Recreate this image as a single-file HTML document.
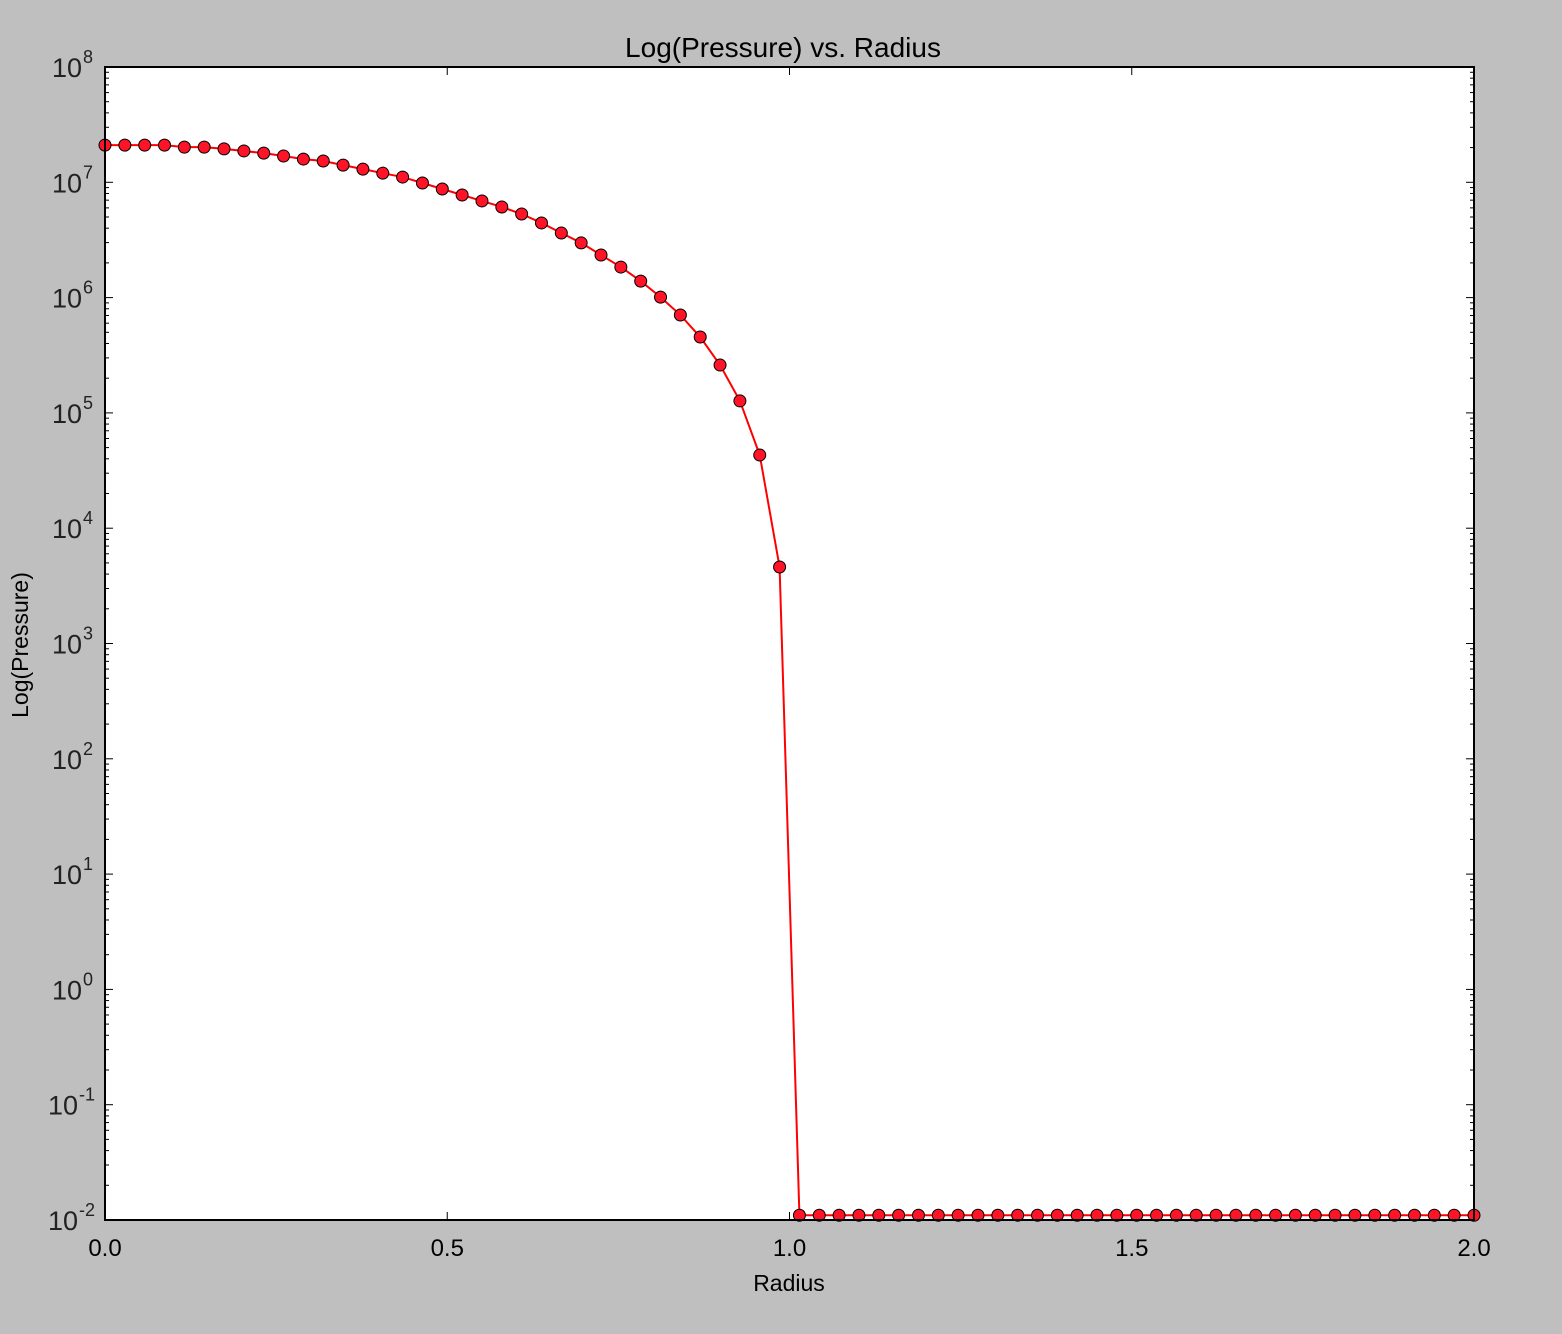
<!DOCTYPE html>
<html><head><meta charset="utf-8"><style>
html,body{margin:0;padding:0;background:#bfbfbf;}
svg{display:block;font-family:"Liberation Sans","DejaVu Sans",sans-serif;}
</style></head><body>
<svg id="chart" width="1562" height="1334" viewBox="0 0 1562 1334">
<rect x="0" y="0" width="1562" height="1334" fill="#bfbfbf"/>
<rect x="105" y="67" width="1369" height="1153" fill="#ffffff"/>
<g id="ticks"></g>
<g id="series"></g>
<rect x="105" y="67" width="1369" height="1153" fill="none" stroke="#000" stroke-width="2"/>
<text x="783" y="57" text-anchor="middle" font-size="28">Log(Pressure) vs. Radius</text>
<text x="789" y="1291" text-anchor="middle" font-size="23">Radius</text>
<text x="0" y="0" transform="translate(28,645) rotate(-90)" text-anchor="middle" font-size="23">Log(Pressure)</text>
<g id="labels"></g>
</svg>
<script>
const radius = [];
const N = 70;
for (let i = 0; i < N; i++) radius.push(2 * i / (N - 1));
const pressure = [2.1e7,2.1e7,2.1e7,2.1e7,2.02e7,2.02e7,1.95e7,1.87e7,1.79e7,1.69e7,1.59e7,1.53e7,1.41e7,1.30e7,1.20e7,1.11e7,9.86e6,8.75e6,7.76e6,6.89e6,6.11e6,5.31e6,4.44e6,3.63e6,2.98e6,2.34e6,1.84e6,1.39e6,1.01e6,7.06e5,4.55e5,2.60e5,1.27e5,4.31e4,4.61e3,
0.011,0.011,0.011,0.011,0.011,0.011,0.011,0.011,0.011,0.011,0.011,0.011,0.011,0.011,0.011,0.011,0.011,0.011,0.011,0.011,0.011,0.011,0.011,0.011,0.011,0.011,0.011,0.011,0.011,0.011,0.011,0.011,0.011,0.011,0.011];
const xTicks = [0, 0.5, 1.0, 1.5, 2.0];
const xTickLabels = ["0.0", "0.5", "1.0", "1.5", "2.0"];
const yExps = [-2,-1,0,1,2,3,4,5,6,7,8];

const L=105,R=1474,T=67,B=1220;
const xs = v => L + (v - 0) / 2 * (R - L);
const ys = v => B - (Math.log10(v) + 2) / 10 * (B - T);
const NS="http://www.w3.org/2000/svg";
function mk(tag, attrs, parent){const e=document.createElementNS(NS,tag);for(const k in attrs)e.setAttribute(k,attrs[k]);parent.appendChild(e);return e;}
const tg=document.getElementById('ticks'), lg=document.getElementById('labels'), sg=document.getElementById('series');

xTicks.forEach((t,i)=>{
  const x=xs(t);
  let a=mk('line',{x1:x,x2:x,y1:B,y2:B-8,stroke:'#000','stroke-width':1},tg);
  
  
  let b=mk('line',{x1:x,x2:x,y1:T,y2:T+8,stroke:'#000','stroke-width':1},tg);
  
  
  const tx=mk('text',{x:x,y:1256,'text-anchor':'middle','font-size':24},lg);
  tx.textContent=xTickLabels[i];
  
  
});
yExps.forEach(e=>{
  const y=ys(Math.pow(10,e));
  let a=mk('line',{x1:L,x2:L+8,y1:y,y2:y,stroke:'#000','stroke-width':1},tg);
  
  
  let b=mk('line',{x1:R,x2:R-8,y1:y,y2:y,stroke:'#000','stroke-width':1},tg);
  
  
  if(e<8){for(let m=2;m<=9;m++){const yy=ys(m*Math.pow(10,e));
    let c=mk('line',{x1:L,x2:L+4,y1:yy,y2:yy,stroke:'#000','stroke-width':1},tg);
    
    
    let d=mk('line',{x1:R,x2:R-4,y1:yy,y2:yy,stroke:'#000','stroke-width':1},tg);
    
    }}
  const bx = e<0 ? 78 : 82;
  const tx=mk('text',{x:bx,y:y+10,'text-anchor':'end','font-size':27,fill:'#222'},lg);
  tx.textContent='10';
  
  
  const sp=mk('tspan',{x:bx+1,dy:-14,'font-size':18,'text-anchor':'start'},tx);
  sp.textContent=String(e);
});
const pts=radius.map((r,i)=>xs(r)+','+ys(pressure[i])).join(' ');
const pl=mk('polyline',{points:pts,fill:'none',stroke:'#ff0000','stroke-width':2},sg);


radius.forEach((r,i)=>{
  const c=mk('circle',{cx:xs(r),cy:ys(pressure[i]),r:6,fill:'#ff1427',stroke:'#000','stroke-width':1},sg);
  
  
});
</script>
</body></html>
